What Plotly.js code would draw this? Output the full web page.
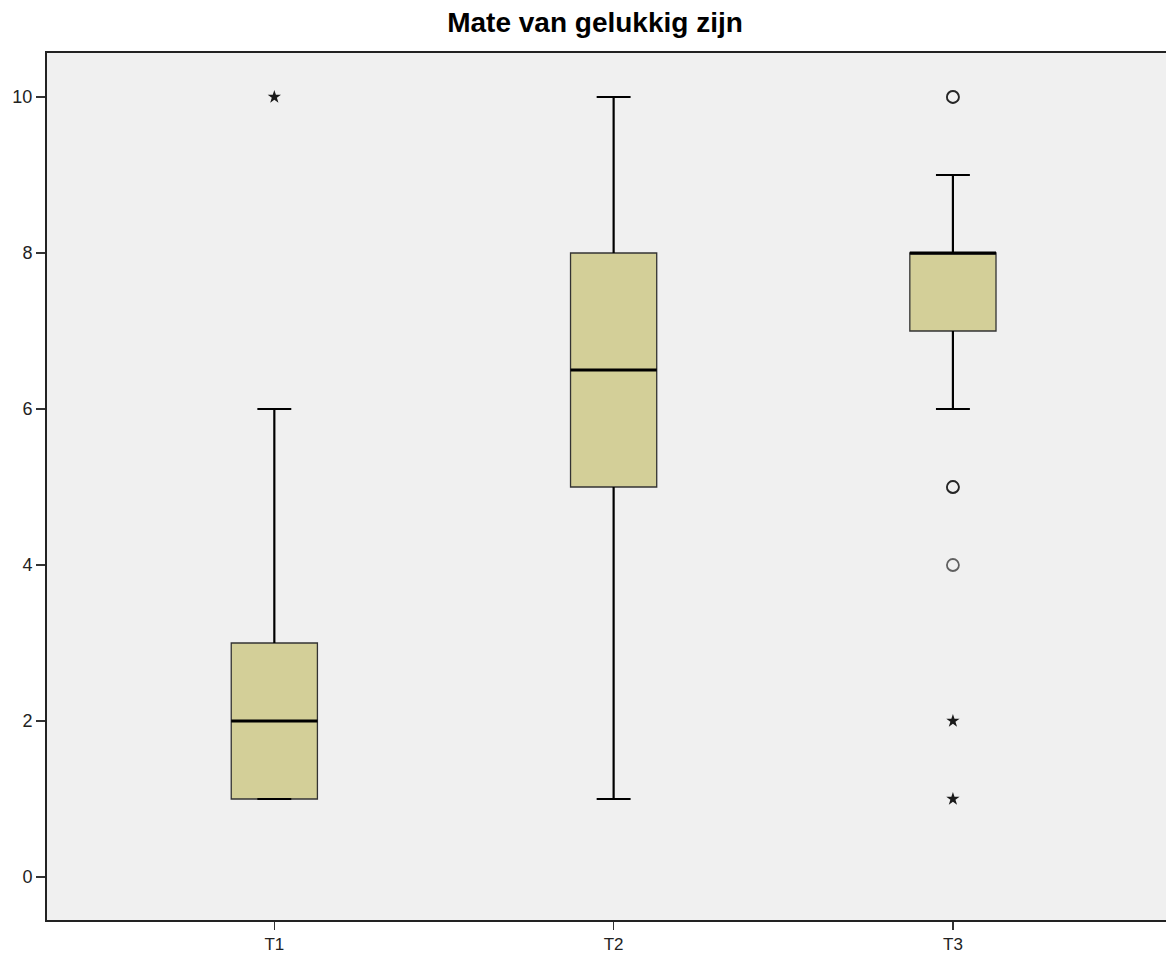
<!DOCTYPE html>
<html>
<head>
<meta charset="utf-8">
<script src="https://cdn.plot.ly/plotly-3.0.1.min.js"></script>
<style>html,body{margin:0;padding:0;background:#fff;}#chart{width:1166px;height:957px;}</style>
</head>
<body>
<div id="chart"></div>
<script>
const categories = ["T1", "T2", "T3"];
const lowerWhisker = [1, 1, 6];
const q1 = [1, 5, 7];
const median = [2, 6.5, 8];
const q3 = [3, 8, 8];
const upperWhisker = [6, 10, 9];
// outliers: circles (mild), stars (extreme)
const circleCat = ["T3", "T3", "T3", "T3", "T3"];
const circleVal = [10, 10, 5, 5, 4];
const starCat = ["T1", "T3", "T3"];
const starVal = [10, 2, 1];
const yTicks = [0, 2, 4, 6, 8, 10];

const pos = categories.map((c, i) => i);
const boxW = 0.254;
const capHalf = 0.05;

const traces = [];
traces.push({
  type: 'box',
  x: pos,
  q1: q1,
  median: median,
  q3: q3,
  lowerfence: q1,
  upperfence: q3,
  width: boxW,
  fillcolor: '#D3CF98',
  line: {color: '#333333', width: 1.3},
  boxpoints: false,
  whiskerwidth: 0,
  hoverinfo: 'skip',
  showlegend: false
});
const wx = [], wy = [];
pos.forEach((p, i) => {
  wx.push(p, p, null, p, p, null, p - capHalf, p + capHalf, null, p - capHalf, p + capHalf, null);
  wy.push(q3[i], upperWhisker[i], null, q1[i], lowerWhisker[i], null, upperWhisker[i], upperWhisker[i], null, lowerWhisker[i], lowerWhisker[i], null);
});
traces.push({type: 'scatter', mode: 'lines', x: wx, y: wy, line: {color: '#000', width: 2.2}, hoverinfo: 'skip', showlegend: false});
const mx = [], my = [];
pos.forEach((p, i) => {
  mx.push(p - boxW / 2, p + boxW / 2, null);
  my.push(median[i], median[i], null);
});
traces.push({type: 'scatter', mode: 'lines', x: mx, y: my, line: {color: '#000', width: 3.2}, hoverinfo: 'skip', showlegend: false});
traces.push({
  type: 'scatter', mode: 'markers',
  x: circleCat.map(c => categories.indexOf(c)), y: circleVal,
  marker: {symbol: 'circle-open', size: 12, color: 'rgba(0,0,0,0.6)', line: {width: 1.8, color: 'rgba(0,0,0,0.6)'}},
  hoverinfo: 'y', showlegend: false
});
traces.push({
  type: 'scatter', mode: 'markers',
  x: starCat.map(c => categories.indexOf(c)), y: starVal,
  marker: {symbol: 'star', size: 10, color: '#1a1a1a', line: {width: 0}},
  hoverinfo: 'y', showlegend: false
});

const layout = {
  width: 1166, height: 957,
  margin: {l: 47, r: 0, t: 53, b: 37},
  paper_bgcolor: '#ffffff',
  plot_bgcolor: '#F0F0F0',
  title: {
    text: '<b>Mate van gelukkig zijn</b>',
    font: {family: 'Liberation Sans, Arial, sans-serif', size: 28, color: '#000'},
    x: 595 / 1166, xref: 'container', xanchor: 'center',
    y: 1 - 22 / 957, yref: 'container', yanchor: 'middle'
  },
  font: {family: 'Liberation Sans, Arial, sans-serif', color: '#222'},
  xaxis: {
    range: [-0.67, 2.628],
    tickmode: 'array', tickvals: pos, ticktext: categories,
    ticks: 'outside', ticklen: 8, tickwidth: 1.5, tickcolor: '#333',
    showgrid: false, zeroline: false,
    showline: true, linecolor: '#222', linewidth: 2, mirror: true,
    tickfont: {size: 17, color: '#222'}
  },
  yaxis: {
    range: [-0.551, 10.564],
    tickmode: 'array', tickvals: yTicks,
    ticks: 'outside', ticklen: 9, tickwidth: 1.5, tickcolor: '#333',
    showgrid: false, zeroline: false,
    showline: true, linecolor: '#222', linewidth: 2,
    tickfont: {size: 18, color: '#222'}
  }
};

Plotly.newPlot('chart', traces, layout, {displayModeBar: false, staticPlot: true});
</script>
</body>
</html>
